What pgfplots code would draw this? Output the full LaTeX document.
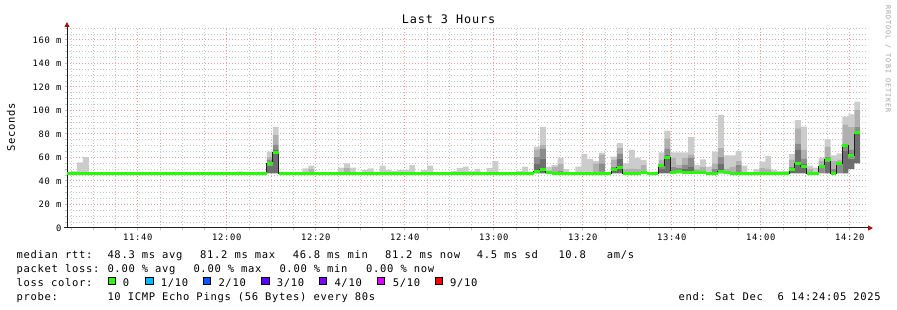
\documentclass[border=0pt]{standalone}
\usepackage{pgfplots}
\pgfplotsset{compat=1.18}
\usepackage{pgfplotstable}
\usepackage{fontspec}
\usetikzlibrary{arrows.meta}
\setmainfont{DejaVu Sans Mono}
\newfontfamily\lgfam[LetterSpace=6.5]{DejaVu Sans Mono}
\newfontfamily\tkfam[LetterSpace=8]{DejaVu Sans Mono}
\newfontfamily\ttlfam[LetterSpace=7.5]{DejaVu Sans Mono}
\newfontfamily\wmfam[LetterSpace=14]{DejaVu Sans Mono}
\newcommand\lgfont{\lgfam\fontsize{10.5bp}{12bp}\selectfont}
\newcommand\tkfont{\tkfam\fontsize{8.8bp}{10bp}\selectfont}
\newcommand\ttlfont{\ttlfam\fontsize{11.8bp}{13bp}\selectfont}
\newcommand\wmfont{\wmfam\fontsize{6.8bp}{8bp}\selectfont}

\definecolor{gridcol}{RGB}{196,196,196}
\definecolor{mgridcol}{RGB}{238,155,155}
\definecolor{axiscol}{RGB}{30,30,30}
\definecolor{arrowcol}{RGB}{160,20,20}
\definecolor{smokeA}{RGB}{204,204,204}
\definecolor{smokeB}{RGB}{176,176,176}
\definecolor{smokeC}{RGB}{140,140,140}
\definecolor{smokeD}{RGB}{110,110,110}
\definecolor{medcol}{RGB}{32,32,32}
\definecolor{wmcol}{RGB}{160,160,160}
\definecolor{lossA}{HTML}{26FF00}
\definecolor{lossB}{HTML}{00B8FF}
\definecolor{lossC}{HTML}{0059FF}
\definecolor{lossD}{HTML}{5E00FF}
\definecolor{lossE}{HTML}{7E00FF}
\definecolor{lossF}{HTML}{DD00FF}
\definecolor{lossG}{HTML}{FF0000}

% smoke: per 80 s step, centre time (minutes after 11:00), layer boundaries in ms
\pgfplotstableread{
t lo c1 c2 c3 hi
25.67 46.5 46.5 46.5 46.5 48.5
27.00 46.5 46.5 46.5 46.5 55.9
28.33 46.5 46.5 46.5 46.5 60.4
63.00 46.5 46.5 46.5 46.5 48.2
69.67 46.5 53.0 57.9 60.7 64.9
71.00 46.5 66.4 71.2 79.0 86.0
77.67 46.5 46.5 46.5 46.5 50.8
79.00 46.5 46.5 46.5 50.0 53.0
85.67 46.5 46.5 46.5 46.5 51.3
87.00 46.5 46.5 46.5 51.0 55.0
88.33 46.5 46.5 46.5 46.5 51.3
91.00 46.5 46.5 46.5 46.5 49.4
92.33 46.5 46.5 46.5 46.5 50.8
93.67 46.5 46.5 46.5 46.5 48.0
95.00 46.5 46.5 46.5 46.5 53.0
96.33 46.5 46.5 46.5 46.5 49.4
97.67 46.5 46.5 46.5 46.5 48.5
99.00 46.5 46.5 46.5 46.5 49.4
100.33 46.5 46.5 46.5 46.5 49.4
101.67 46.5 46.5 46.5 46.5 53.6
104.33 46.5 46.5 46.5 46.5 49.4
105.67 46.5 46.5 46.5 46.5 53.0
111.00 46.5 46.5 46.5 46.5 48.5
112.33 46.5 46.5 46.5 46.5 51.0
113.67 46.5 46.5 46.5 46.5 52.2
115.00 46.5 46.5 46.5 46.5 48.5
116.33 46.5 46.5 46.5 46.5 50.2
119.00 46.5 46.5 46.5 46.5 51.0
120.33 46.5 46.5 46.5 46.5 57.0
125.67 46.5 46.5 46.5 46.5 48.5
127.00 46.5 46.5 46.5 46.5 52.2
128.33 46.5 46.5 46.5 46.5 48.0
129.67 46.5 55.0 60.7 67.0 69.2
131.00 46.5 59.3 67.8 70.6 86.0
132.33 46.5 46.5 46.5 49.0 52.2
133.67 46.5 46.5 46.5 52.2 53.6
135.00 46.5 46.5 48.5 54.5 59.9
136.33 46.5 46.5 46.5 46.5 50.2
139.00 46.5 46.5 46.5 46.5 52.2
140.33 46.5 46.5 46.5 48.0 63.0
141.67 46.5 46.5 46.5 48.0 58.7
143.00 46.5 46.5 48.0 55.0 57.0
144.33 46.5 48.0 55.0 62.7 64.1
147.00 46.5 49.0 52.2 57.9 60.7
148.33 46.5 59.3 63.5 68.4 72.3
149.67 46.5 46.5 46.5 50.2 55.0
151.00 46.5 46.5 46.5 50.8 66.4
152.33 46.5 46.5 46.5 50.2 59.9
153.67 46.5 46.5 46.5 53.6 57.9
157.67 46.5 50.0 52.2 57.9 64.4
159.00 46.5 62.7 67.8 76.3 82.8
160.33 46.5 49.0 52.2 59.6 64.4
161.67 46.5 46.5 51.0 53.6 64.4
163.00 46.5 50.0 53.6 59.6 64.4
164.33 46.5 52.0 59.6 62.7 77.4
165.67 46.5 46.5 46.5 50.2 53.6
167.00 46.5 46.5 46.5 52.2 58.4
168.33 46.5 46.5 46.5 46.5 52.2
169.67 46.5 46.5 50.2 55.0 65.0
171.00 46.5 55.0 60.7 68.4 96.2
172.33 46.5 46.5 46.5 50.8 61.9
173.67 46.5 46.5 46.5 52.0 61.9
175.00 46.5 46.5 54.0 57.0 65.5
176.33 46.5 46.5 46.5 46.5 53.0
179.00 46.5 46.5 46.5 46.5 50.2
180.33 46.5 46.5 46.5 51.0 56.5
181.67 46.5 46.5 46.5 50.2 61.3
183.00 46.5 46.5 46.5 46.5 49.4
184.33 46.5 46.5 46.5 46.5 48.5
185.67 46.5 46.5 46.5 46.5 48.5
187.00 46.5 50.0 52.2 57.9 63.0
188.33 46.5 66.4 72.1 84.8 91.9
189.67 46.5 54.5 59.3 66.4 86.2
191.00 46.5 46.5 46.5 50.2 53.0
192.33 46.5 46.5 46.5 46.5 51.3
193.67 46.5 46.5 52.2 57.0 59.9
195.00 46.5 56.5 60.7 69.2 75.7
196.33 46.5 46.5 50.0 57.0 61.9
197.67 46.5 46.5 53.6 57.9 63.5
199.00 46.5 65.5 70.6 88.2 94.7
200.33 50.0 59.0 66.4 86.2 96.7
201.67 55.0 82.0 86.2 100.4 107.5
}\smoke

% median rtt, value holds from t until the next row
\pgfplotstableread{
t med
24.083 46.8
69.00 55.0
70.33 64.1
71.67 46.8
129.00 48.5
130.33 50.2
131.67 47.5
133.00 46.8
146.33 49.4
147.67 51.5
149.00 46.2
150.33 46.8
153.00 47.4
154.33 46.2
157.00 53.4
158.33 59.6
159.67 47.5
161.00 48.0
162.33 47.5
165.00 47.0
167.67 46.2
169.00 46.8
170.33 48.0
171.67 47.5
173.00 46.8
177.00 46.2
178.33 46.8
186.33 49.4
187.67 54.5
189.00 52.0
190.33 46.2
191.67 46.5
193.00 52.0
194.33 58.4
195.67 46.8
197.00 55.0
198.33 70.6
199.67 62.1
201.00 81.2
202.33 81.2
}\median

\pgfplotsset{rrd/.style={
  scale only axis, width=801bp, height=201bp,
  xmin=24.083, xmax=204.083, ymin=0, ymax=171.06,
  enlargelimits=false, at={(67bp,82bp)}, anchor=south west}}

\begin{document}
\begin{tikzpicture}
\path[use as bounding box] (0,0) rectangle (897bp,310bp);
\begin{axis}[rrd,
  axis x line*=bottom, axis y line*=left,
  axis line style={draw=axiscol, line width=1bp},
  x axis line style={-{Triangle[width=5bp,length=5bp,color=arrowcol]}, shorten >=-5bp, shorten <=-3bp},
  y axis line style={-{Triangle[width=5bp,length=5bp,color=arrowcol]}, shorten >=-5bp},
  xtick={40,60,80,100,120,140,160,180,200},
  xticklabels={11:40,12:00,12:20,12:40,13:00,13:20,13:40,14:00,14:20},
  minor xtick={25,30,...,200},
  ytick={0,20,40,60,80,100,120,140,160},
  yticklabels={0,20 m,40 m,60 m,80 m,100 m,120 m,140 m,160 m},
  minor ytick={5,10,...,170},
  grid=both,
  major grid style={draw=mgridcol, dash pattern=on 1bp off 2bp, line width=1bp},
  minor grid style={draw=gridcol, dash pattern=on 1bp off 2bp, line width=1bp},
  tick align=outside, major tick length=2.5bp, minor tick length=2.5bp,
  every tick/.style={draw=gridcol, line width=1bp},
  xticklabel style={font=\tkfont, inner sep=0pt, anchor=base, yshift=-10bp},
  yticklabel style={font=\tkfont, inner sep=0pt, anchor=east, xshift=-3bp},
  ybar stacked, bar width=1.33333,
]
\addplot[draw=none, fill=none] table[x=t, y=lo] \smoke;
\addplot[draw=none, fill=smokeD] table[x=t, y expr=\thisrow{c1}-\thisrow{lo}] \smoke;
\addplot[draw=none, fill=smokeC] table[x=t, y expr=\thisrow{c2}-\thisrow{c1}] \smoke;
\addplot[draw=none, fill=smokeB] table[x=t, y expr=\thisrow{c3}-\thisrow{c2}] \smoke;
\addplot[draw=none, fill=smokeA] table[x=t, y expr=\thisrow{hi}-\thisrow{c3}] \smoke;
\end{axis}
\begin{axis}[rrd, hide axis]
\addplot[medcol, line width=1bp, const plot mark left] table[x=t, y=med] \median;
\addplot[lossA, line width=3bp, jump mark left] table[x=t, y=med] \median;
\end{axis}

\node[font=\ttlfont, inner sep=0pt] at (448.5bp,291bp) {Last 3 Hours};
\node[font=\lgfont, inner sep=0pt, rotate=90] at (11bp,183bp) {Seconds};
\node[font=\wmfont, text=wmcol, inner sep=0pt, rotate=-90] at (888bp,251bp) {RRDTOOL / TOBI OETIKER};

\begin{scope}[every node/.style={font=\lgfont, inner sep=0pt, anchor=base west}]
\node at (16.5bp,51.7bp) {median rtt:};
\node at (107.3bp,51.7bp) {48.3 ms avg};
\node at (200bp,51.7bp) {81.2 ms max};
\node at (292.7bp,51.7bp) {46.8 ms min};
\node at (385bp,51.7bp) {81.2 ms now};
\node at (476.7bp,51.7bp) {4.5 ms sd};
\node at (558.3bp,51.7bp) {10.8};
\node at (606.7bp,51.7bp) {am/s};

\node at (16.5bp,37.7bp) {packet loss:};
\node at (107.3bp,37.7bp) {0.00 \% avg};
\node at (193.3bp,37.7bp) {0.00 \% max};
\node at (279.3bp,37.7bp) {0.00 \% min};
\node at (366bp,37.7bp) {0.00 \% now};

\node at (16.5bp,23.7bp) {loss color:};
\node at (122.7bp,23.7bp) {0};
\node at (160.7bp,23.7bp) {1/10};
\node at (218.3bp,23.7bp) {2/10};
\node at (276.7bp,23.7bp) {3/10};
\node at (334.3bp,23.7bp) {4/10};
\node at (392.7bp,23.7bp) {5/10};
\node at (450bp,23.7bp) {9/10};

\node at (16.5bp,9.7bp) {probe:};
\node at (107.3bp,9.7bp) {10 ICMP Echo Pings (56 Bytes) every 80s};
\node at (678.3bp,9.7bp) {end: Sat Dec};
\node at (777.5bp,9.7bp) {6 14:24:05 2025};
\end{scope}

\foreach \xx/\cc in {108.3/lossA,145.7/lossB,203.3/lossC,261.7/lossD,319.3/lossE,377.3/lossF,435/lossG}{
  \filldraw[fill=\cc, draw=black, line width=0.8bp] (\xx bp,25.2bp) rectangle ++(7.2bp,7.2bp);
}
\end{tikzpicture}
\end{document}
